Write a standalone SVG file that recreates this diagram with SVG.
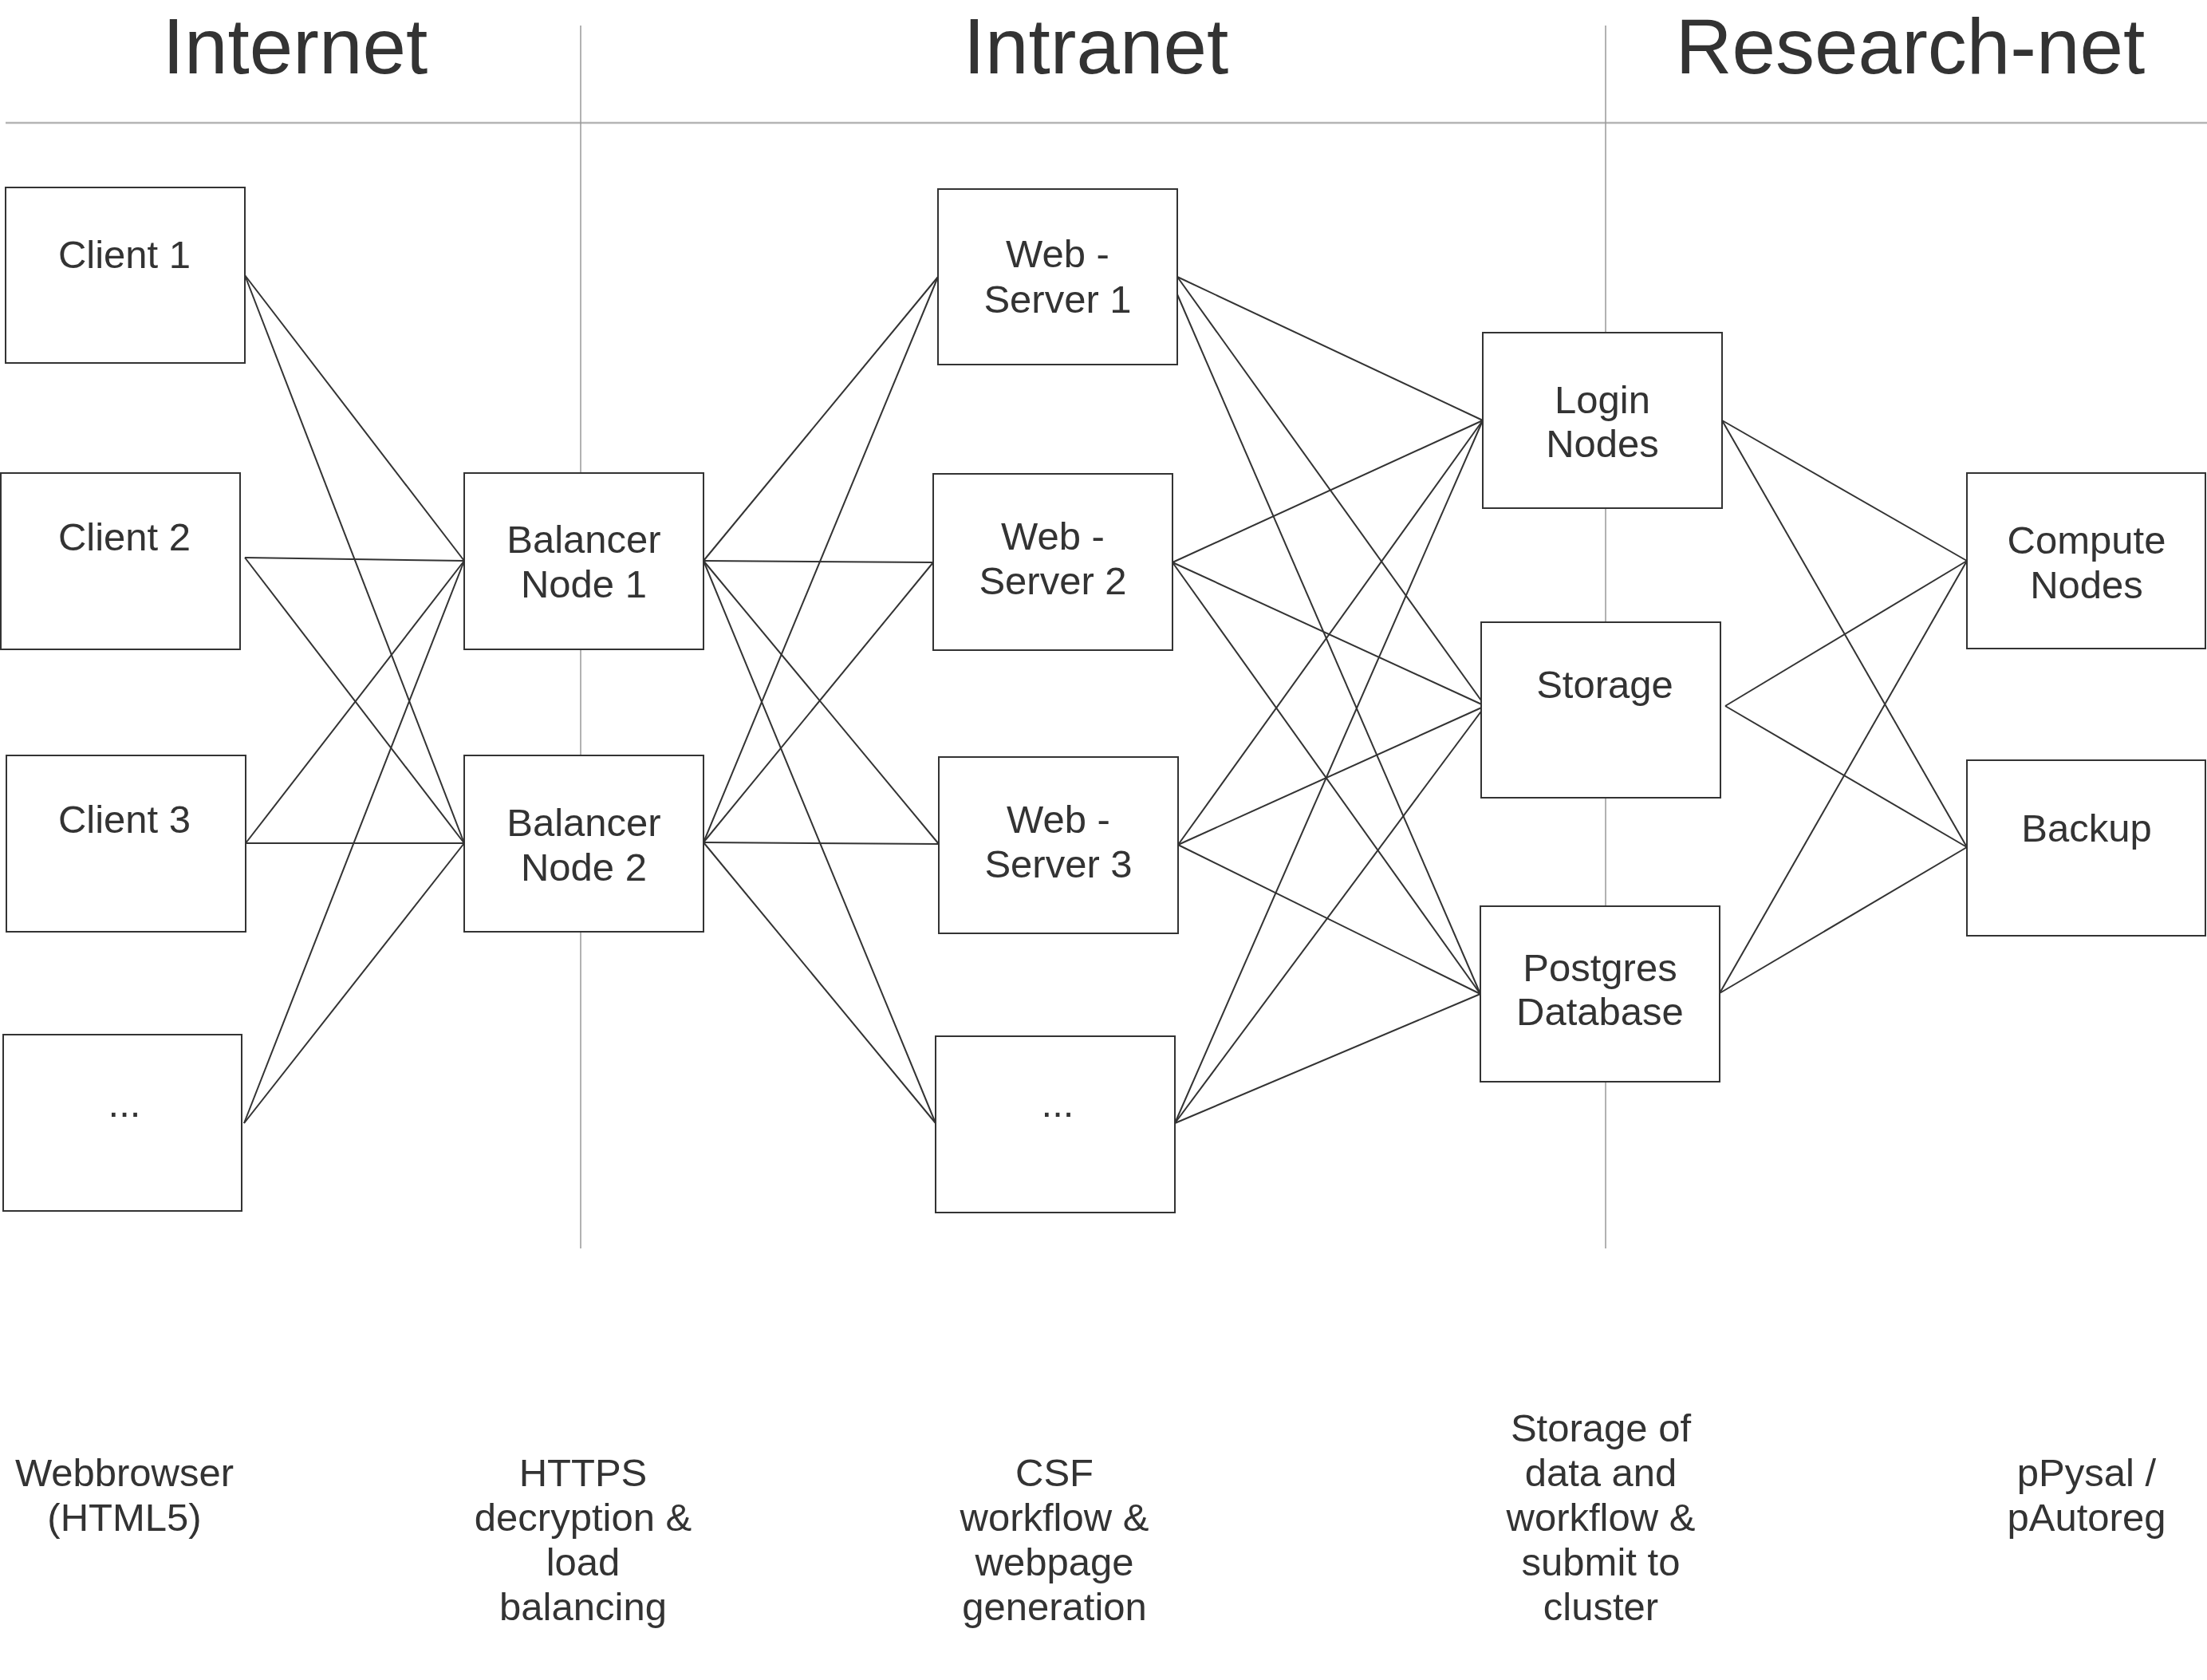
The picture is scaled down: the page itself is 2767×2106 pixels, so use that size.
<svg xmlns="http://www.w3.org/2000/svg" width="2767" height="2106" viewBox="0 0 2767 2106">
<style>
.bg{fill:#ffffff}
.sep{stroke:#999999;stroke-width:1.5;fill:none}
.hsep{stroke:#b5b5b5;stroke-width:2.5;fill:none}
.box{fill:#ffffff;stroke:#333333;stroke-width:2}
.con line{stroke:#333333;stroke-width:2}
text{font-family:"Liberation Sans",Arial,sans-serif;fill:#333333;text-anchor:middle}
.t{font-size:49px}
.h{font-size:98px}
</style>
<rect class="bg" x="0" y="0" width="2767" height="2106"/>
<g id="separators">
<line class="hsep" x1="7" y1="154" x2="2767" y2="154"/>
<line class="sep" x1="728" y1="32" x2="728" y2="1565"/>
<line class="sep" x1="2013" y1="32" x2="2013" y2="1565"/>
</g>
<g id="headers">
<text class="h" x="370" y="92">Internet</text>
<text class="h" x="1374" y="92">Intranet</text>
<text class="h" x="2395" y="92">Research-net</text>
</g>
<g id="connectors" class="con">
<line x1="307" y1="345" x2="582" y2="703"/>
<line x1="307" y1="345" x2="582" y2="1057"/>
<line x1="307" y1="699" x2="582" y2="703"/>
<line x1="307" y1="699" x2="582" y2="1057"/>
<line x1="308" y1="1057" x2="582" y2="703"/>
<line x1="308" y1="1057" x2="582" y2="1057"/>
<line x1="306" y1="1408" x2="582" y2="703"/>
<line x1="306" y1="1408" x2="582" y2="1057"/>
<line x1="882" y1="703" x2="1176" y2="347"/>
<line x1="882" y1="703" x2="1170" y2="705"/>
<line x1="882" y1="703" x2="1177" y2="1058"/>
<line x1="882" y1="703" x2="1173" y2="1408"/>
<line x1="882" y1="1056" x2="1176" y2="347"/>
<line x1="882" y1="1056" x2="1170" y2="705"/>
<line x1="882" y1="1056" x2="1177" y2="1058"/>
<line x1="882" y1="1056" x2="1173" y2="1408"/>
<line x1="1476" y1="347" x2="1859" y2="527"/>
<line x1="1476" y1="347" x2="1862" y2="885"/>
<line x1="1476" y1="369" x2="1856" y2="1246"/>
<line x1="1470" y1="705" x2="1859" y2="527"/>
<line x1="1470" y1="705" x2="1862" y2="885"/>
<line x1="1470" y1="705" x2="1856" y2="1246"/>
<line x1="1477" y1="1059" x2="1859" y2="527"/>
<line x1="1477" y1="1059" x2="1862" y2="885"/>
<line x1="1477" y1="1059" x2="1856" y2="1246"/>
<line x1="1473" y1="1408" x2="1859" y2="527"/>
<line x1="1473" y1="1408" x2="1862" y2="885"/>
<line x1="1473" y1="1408" x2="1856" y2="1246"/>
<line x1="2159" y1="527" x2="2466" y2="703"/>
<line x1="2159" y1="527" x2="2466" y2="1062"/>
<line x1="2163" y1="885" x2="2466" y2="703"/>
<line x1="2163" y1="885" x2="2466" y2="1062"/>
<line x1="2156" y1="1245" x2="2466" y2="703"/>
<line x1="2156" y1="1245" x2="2466" y2="1062"/>
</g>
<g id="client1"><rect class="box" x="7" y="235" width="300" height="220"/><text class="t" x="156" y="336">Client 1</text></g>
<g id="client2"><rect class="box" x="1" y="593" width="300" height="221"/><text class="t" x="156" y="690">Client 2</text></g>
<g id="client3"><rect class="box" x="8" y="947" width="300" height="221"/><text class="t" x="156" y="1044">Client 3</text></g>
<g id="clientN"><rect class="box" x="4" y="1297" width="299" height="221"/><text class="t" x="156" y="1400">...</text></g>
<g id="balancer1"><rect class="box" x="582" y="593" width="300" height="221"/><text class="t" x="732" y="693">Balancer</text><text class="t" x="732" y="749">Node 1</text></g>
<g id="balancer2"><rect class="box" x="582" y="947" width="300" height="221"/><text class="t" x="732" y="1048">Balancer</text><text class="t" x="732" y="1104">Node 2</text></g>
<g id="webserver1"><rect class="box" x="1176" y="237" width="300" height="220"/><text class="t" x="1326" y="335">Web -</text><text class="t" x="1326" y="392">Server 1</text></g>
<g id="webserver2"><rect class="box" x="1170" y="594" width="300" height="221"/><text class="t" x="1320" y="689">Web -</text><text class="t" x="1320" y="745">Server 2</text></g>
<g id="webserver3"><rect class="box" x="1177" y="949" width="300" height="221"/><text class="t" x="1327" y="1044">Web -</text><text class="t" x="1327" y="1100">Server 3</text></g>
<g id="webserverN"><rect class="box" x="1173" y="1299" width="300" height="221"/><text class="t" x="1326" y="1400">...</text></g>
<g id="login"><rect class="box" x="1859" y="417" width="300" height="220"/><text class="t" x="2009" y="518">Login</text><text class="t" x="2009" y="573">Nodes</text></g>
<g id="storage"><rect class="box" x="1857" y="780" width="300" height="220"/><text class="t" x="2012" y="875">Storage</text></g>
<g id="postgres"><rect class="box" x="1856" y="1136" width="300" height="220"/><text class="t" x="2006" y="1230">Postgres</text><text class="t" x="2006" y="1285">Database</text></g>
<g id="compute"><rect class="box" x="2466" y="593" width="299" height="220"/><text class="t" x="2616" y="694">Compute</text><text class="t" x="2616" y="750">Nodes</text></g>
<g id="backup"><rect class="box" x="2466" y="953" width="299" height="220"/><text class="t" x="2616" y="1055">Backup</text></g>
<g id="captions">
<text class="t" x="156" y="1863">Webbrowser</text><text class="t" x="156" y="1919">(HTML5)</text>
<text class="t" x="731" y="1863">HTTPS</text><text class="t" x="731" y="1919">decryption &amp;</text><text class="t" x="731" y="1975">load</text><text class="t" x="731" y="2031">balancing</text>
<text class="t" x="1322" y="1863">CSF</text><text class="t" x="1322" y="1919">workflow &amp;</text><text class="t" x="1322" y="1975">webpage</text><text class="t" x="1322" y="2031">generation</text>
<text class="t" x="2007" y="1807">Storage of</text><text class="t" x="2007" y="1863">data and</text><text class="t" x="2007" y="1919">workflow &amp;</text><text class="t" x="2007" y="1975">submit to</text><text class="t" x="2007" y="2031">cluster</text>
<text class="t" x="2616" y="1863">pPysal /</text><text class="t" x="2616" y="1919">pAutoreg</text>
</g>
</svg>
